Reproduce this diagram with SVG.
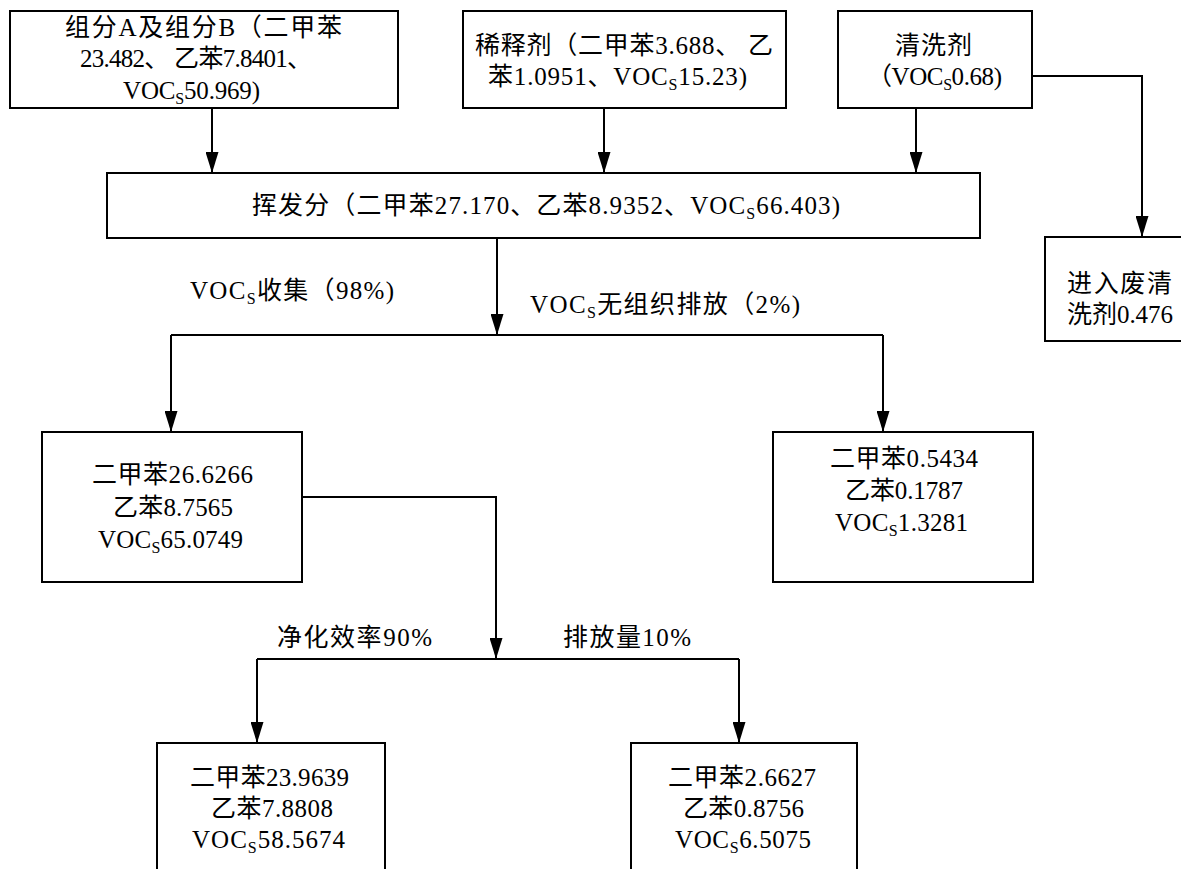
<svg xmlns="http://www.w3.org/2000/svg" width="1181" height="869" viewBox="0 0 1181 869">
<style>
.box{fill:#fff;stroke:#000;stroke-width:2}
.ln{fill:none;stroke:#000;stroke-width:2}
.t{font-family:"Liberation Serif","Noto Sans CJK SC",serif;font-size:25px;fill:#000}
.s{font-size:16px}
</style>
<defs>
<marker id="ah" markerWidth="21" markerHeight="13" refX="21" refY="6.5" orient="auto" markerUnits="userSpaceOnUse" viewBox="0 0 21 13"><path d="M0,0 L21,6.5 L0,13 z" fill="#000"/></marker>
</defs>
<rect width="1181" height="869" fill="#fff"/>
<g id="connectors">
<path class="ln" d="M212,108 V173" marker-end="url(#ah)"/>
<path class="ln" d="M604,108 V173" marker-end="url(#ah)"/>
<path class="ln" d="M916,108 V173" marker-end="url(#ah)"/>
<path class="ln" d="M1032,76 H1142 V237" marker-end="url(#ah)"/>
<path class="ln" d="M497,238 V335" marker-end="url(#ah)"/>
<path class="ln" d="M171,335 H883"/>
<path class="ln" d="M171,335 V432" marker-end="url(#ah)"/>
<path class="ln" d="M883,335 V432" marker-end="url(#ah)"/>
<path class="ln" d="M302,497 H496 V659" marker-end="url(#ah)"/>
<path class="ln" d="M257,659 H739"/>
<path class="ln" d="M257,659 V743" marker-end="url(#ah)"/>
<path class="ln" d="M739,659 V743" marker-end="url(#ah)"/>
</g>
<g id="n1">
<rect class="box" x="10" y="11" width="388" height="97"/>
<text class="t" x="65" y="36" textLength="277">组分A及组分B（二甲苯</text>
<text class="t" x="80" y="67" textLength="232">23.482、 乙苯7.8401、</text>
<text class="t" x="123" y="99" textLength="137">VOC<tspan class="s" dy="5">S</tspan><tspan dy="-5">50.969)</tspan></text>
</g>
<g id="n2">
<rect class="box" x="463" y="11" width="323" height="97"/>
<text class="t" x="475" y="54" textLength="298">稀释剂（二甲苯3.688、 乙</text>
<text class="t" x="488" y="85" textLength="259">苯1.0951、VOC<tspan class="s" dy="5">S</tspan><tspan dy="-5">15.23)</tspan></text>
</g>
<g id="n3">
<rect class="box" x="838" y="11" width="194" height="97"/>
<text class="t" x="895" y="54" textLength="77">清洗剂</text>
<text class="t" x="867" y="85" textLength="135">（VOC<tspan class="s" dy="5">S</tspan><tspan dy="-5">0.68)</tspan></text>
</g>
<g id="n4">
<rect class="box" x="107" y="173" width="873" height="65"/>
<text class="t" x="252" y="214" textLength="588">挥发分（二甲苯27.170、乙苯8.9352、VOC<tspan class="s" dy="5">S</tspan><tspan dy="-5">66.403)</tspan></text>
</g>
<g id="n5">
<rect class="box" x="1045" y="237" width="150" height="104"/>
<text class="t" x="1067" y="292" textLength="105">进入废清</text>
<text class="t" x="1067" y="323" textLength="106">洗剂0.476</text>
</g>
<g id="labels1">
<text class="t" x="190" y="299" textLength="204">VOC<tspan class="s" dy="5">S</tspan><tspan dy="-5">收集（98%)</tspan></text>
<text class="t" x="530" y="313" textLength="270">VOC<tspan class="s" dy="5">S</tspan><tspan dy="-5">无组织排放（2%)</tspan></text>
</g>
<g id="n6">
<rect class="box" x="42" y="432" width="260" height="150"/>
<text class="t" x="92" y="483" textLength="161">二甲苯26.6266</text>
<text class="t" x="113" y="516" textLength="120">乙苯8.7565</text>
<text class="t" x="98" y="548" textLength="145">VOC<tspan class="s" dy="5">S</tspan><tspan dy="-5">65.0749</tspan></text>
</g>
<g id="n7">
<rect class="box" x="773" y="432" width="260" height="150"/>
<text class="t" x="830" y="467" textLength="148">二甲苯0.5434</text>
<text class="t" x="845" y="499" textLength="118">乙苯0.1787</text>
<text class="t" x="835" y="531" textLength="133">VOC<tspan class="s" dy="5">S</tspan><tspan dy="-5">1.3281</tspan></text>
</g>
<g id="labels2">
<text class="t" x="277" y="646" textLength="155">净化效率90%</text>
<text class="t" x="563" y="646" textLength="128">排放量10%</text>
</g>
<g id="n8">
<rect class="box" x="157" y="743" width="228" height="140"/>
<text class="t" x="190" y="786" textLength="159">二甲苯23.9639</text>
<text class="t" x="211" y="817" textLength="122">乙苯7.8808</text>
<text class="t" x="192" y="848" textLength="153">VOC<tspan class="s" dy="5">S</tspan><tspan dy="-5">58.5674</tspan></text>
</g>
<g id="n9">
<rect class="box" x="631" y="743" width="226" height="140"/>
<text class="t" x="668" y="786" textLength="148">二甲苯2.6627</text>
<text class="t" x="683" y="817" textLength="121">乙苯0.8756</text>
<text class="t" x="675" y="848" textLength="136">VOC<tspan class="s" dy="5">S</tspan><tspan dy="-5">6.5075</tspan></text>
</g>
</svg>
